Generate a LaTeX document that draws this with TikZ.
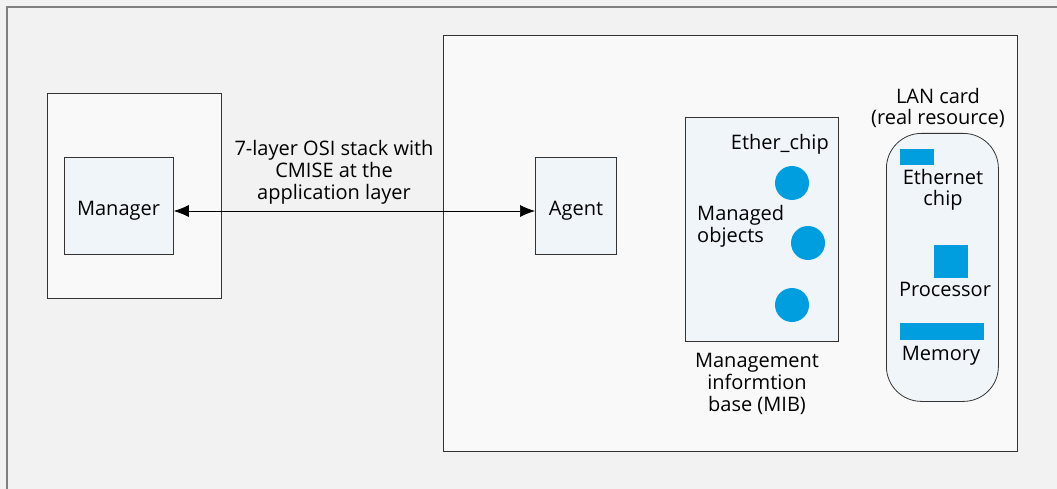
\documentclass[tikz,border=0pt]{standalone}
\usepackage{fontspec}
\setmainfont{Open Sans}
\usetikzlibrary{arrows.meta}
\definecolor{bg}{HTML}{F2F2F2}
\definecolor{panel}{HTML}{F9F9F9}
\definecolor{lightfill}{HTML}{F0F5FA}
\definecolor{chipblue}{HTML}{009DDF}
\definecolor{frame}{HTML}{808080}
\tikzset{
  box/.style={draw=black!80, line width=0.8pt},
  txt/.style={font=\fontsize{20}{22}\selectfont, align=center, inner sep=0pt},
  obj/.style={circle, fill=chipblue, minimum size=34pt, inner sep=0pt},
  part/.style={fill=chipblue, inner sep=0pt},
  link/.style={>={Latex[length=15pt,width=12pt]}, <->, line width=0.7pt},
}
\begin{document}
\begin{tikzpicture}[x=1pt,y=-1pt]
\useasboundingbox (0,0) rectangle (1057,489);
\fill[bg] (0,0) rectangle (1057,489);
\draw[frame, line width=1.5pt] (7,489) -- (7,7) -- (1057,7);
% agent panel
\draw[box, fill=panel] (443,35) rectangle (1017,451);
% manager outer
\draw[box, fill=panel] (47,93) rectangle (221,298);
\node[box, fill=lightfill, minimum width=109pt, minimum height=97pt, anchor=north west] (mgr) at (64,157) {};
\node[txt] (mgrl) at (118.5,211) {Manager};
\node[box, fill=lightfill, minimum width=81pt, minimum height=97pt, anchor=north west] (agent) at (535,157) {};
\node[txt] (agentl) at (576,211) {Agent};
\coordinate (a1) at (mgr.east |- 0,211);
\coordinate (a2) at (agent.west |- 0,211);
\draw[link] (a1) -- (a2);
\node[txt] (osi) at (334,172) {7-layer OSI stack with\\CMISE at the\\application layer};
% MIB
\node[box, fill=lightfill, minimum width=153pt, minimum height=224pt, anchor=north west] (mib) at (685,117) {};
\node[txt, anchor=east] (ether) at (829,144) {Ether\_chip};
\node[obj] (o1) at (792,183) {};
\node[obj] (o2) at (808,243) {};
\node[obj] (o3) at (792,305) {};
\node[txt, anchor=west, align=left] (mo) at (697,226.5) {Managed\\objects};
\node[txt] (mibl) at (757,384) {Management\\informtion\\base (MIB)};
% LAN card
\node[box, fill=lightfill, rounded corners=35pt, minimum width=112pt, minimum height=268pt, anchor=north west] (lan) at (886,133) {};
\node[txt, font=\fontsize{20}{20.5}\selectfont] (lanl) at (938,108) {LAN card\\(real resource)};
\node[part, minimum width=34pt, minimum height=16pt, anchor=north west] (ec) at (900,149) {};
\node[txt, font=\fontsize{20}{21}\selectfont] (ecl) at (943,189.5) {Ethernet\\chip};
\node[part, minimum width=34pt, minimum height=33pt, anchor=north west] (proc) at (934,245) {};
\node[txt] (procl) at (945,289.5) {Processor};
\node[part, minimum width=84pt, minimum height=17pt, anchor=north west] (mem) at (900,323) {};
\node[txt] (meml) at (941,356) {Memory};
\end{tikzpicture}
\end{document}
